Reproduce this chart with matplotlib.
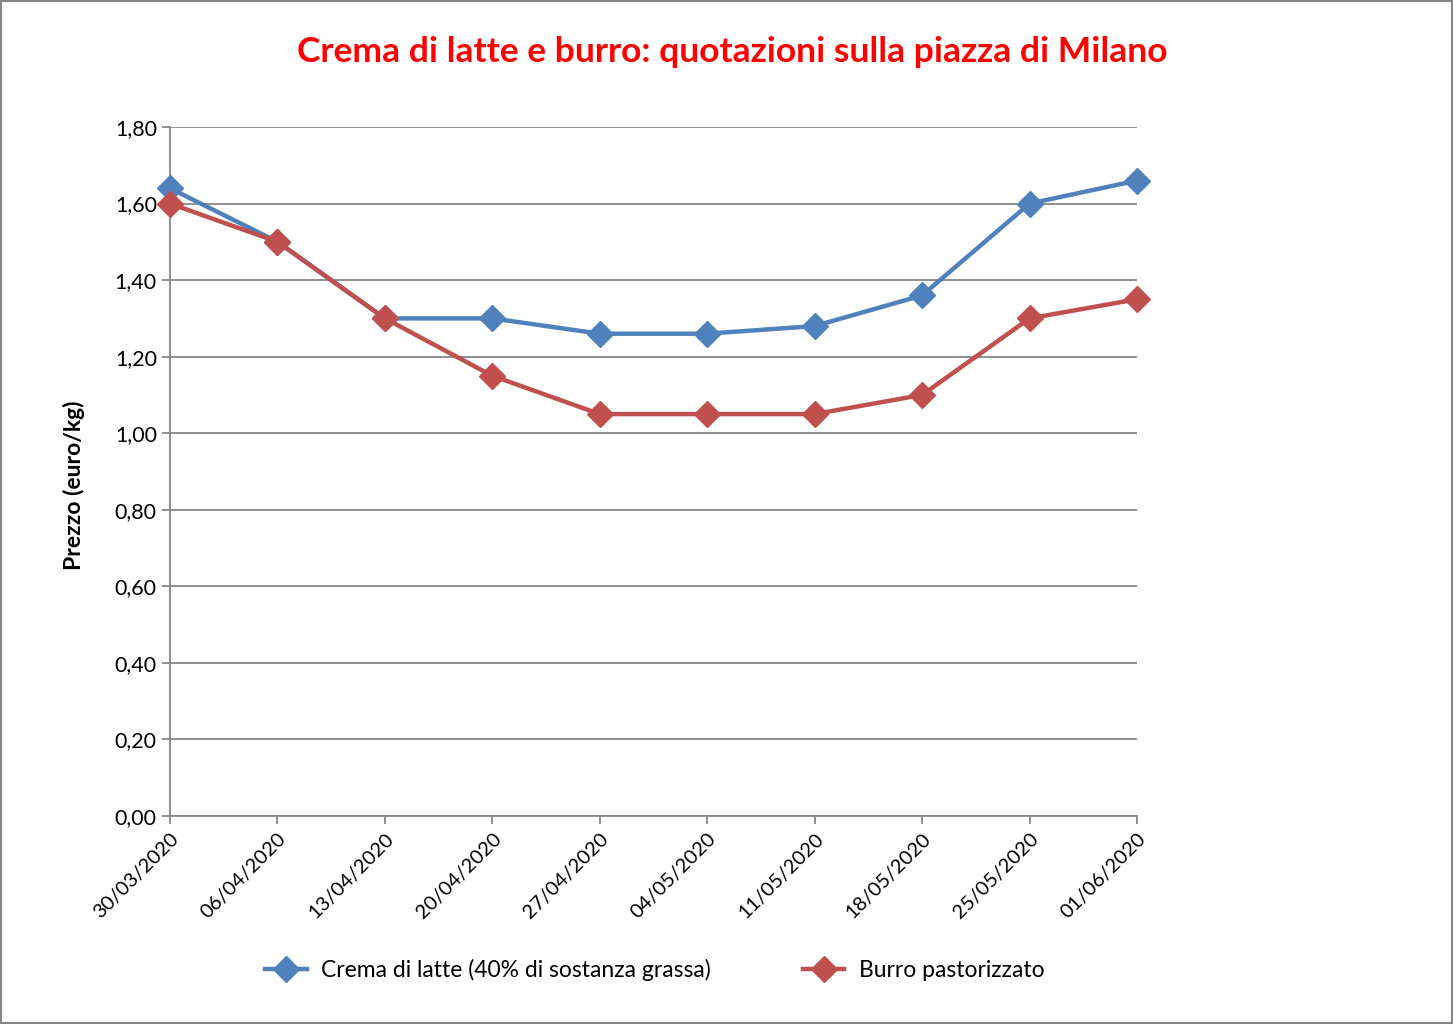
import matplotlib.pyplot as plt
from matplotlib.patches import Rectangle

plt.rcParams['font.family'] = ['Lato', 'DejaVu Sans']

# weekly quotations
dates = ['30/03/2020', '06/04/2020', '13/04/2020', '20/04/2020', '27/04/2020',
         '04/05/2020', '11/05/2020', '18/05/2020', '25/05/2020', '01/06/2020']
crema = [1.64, 1.50, 1.30, 1.30, 1.26, 1.26, 1.28, 1.36, 1.60, 1.66]
burro = [1.60, 1.50, 1.30, 1.15, 1.05, 1.05, 1.05, 1.10, 1.30, 1.35]
yticks = [0.0, 0.2, 0.4, 0.6, 0.8, 1.0, 1.2, 1.4, 1.6, 1.8]

fig = plt.figure(figsize=(14.53, 10.24), dpi=100)
ax = fig.add_axes([170/1453, 208/1024, 967/1453, 689/1024])

x = list(range(len(dates)))
ax.plot(x, crema, color='#4F81BD', lw=3.2, marker='D', ms=13,
        label='Crema di latte (40% di sostanza grassa)', zorder=3, clip_on=False)
ax.plot(x, burro, color='#C0504D', lw=3.2, marker='D', ms=13,
        label='Burro pastorizzato', zorder=4, clip_on=False)

ax.set_xlim(0, len(dates) - 1)
ax.set_ylim(0, 1.8)
ax.set_yticks(yticks)
ax.set_yticklabels([f'{v:.2f}'.replace('.', ',') for v in yticks], fontsize=15.5)
ax.set_xticks(x)
ax.set_xticklabels(dates, rotation=45, ha='right', rotation_mode='anchor', fontsize=14.5)
ax.grid(axis='y', color='#868686', lw=1.3)
ax.set_axisbelow(True)
for s in ['top', 'right']:
    ax.spines[s].set_visible(False)
for s in ['left', 'bottom']:
    ax.spines[s].set_color('#868686')
    ax.spines[s].set_linewidth(1.3)
ax.tick_params(color='#868686', width=1.3, length=6)
ax.tick_params(axis='x', pad=4)
ax.set_ylabel('Prezzo (euro/kg)', fontsize=16.5, fontweight='bold')
ax.yaxis.set_label_coords(-0.088, 0.48)

fig.suptitle('Crema di latte e burro: quotazioni sulla piazza di Milano',
             x=732/1453, y=1 - 52/1024, va='center', color='#FF0000',
             fontsize=25.5, fontweight='bold')

fig.legend(loc='center', bbox_to_anchor=(655/1453, 1 - 970/1024), ncol=2,
           frameon=False, fontsize=16.5, columnspacing=4, handlelength=1.8,
           handletextpad=0.65)

fig.patches.append(Rectangle((0.0005, 0.0005), 0.999, 0.999, transform=fig.transFigure,
                             fill=False, edgecolor='#868686', lw=1.5))

fig.savefig('out.png', dpi=100)
